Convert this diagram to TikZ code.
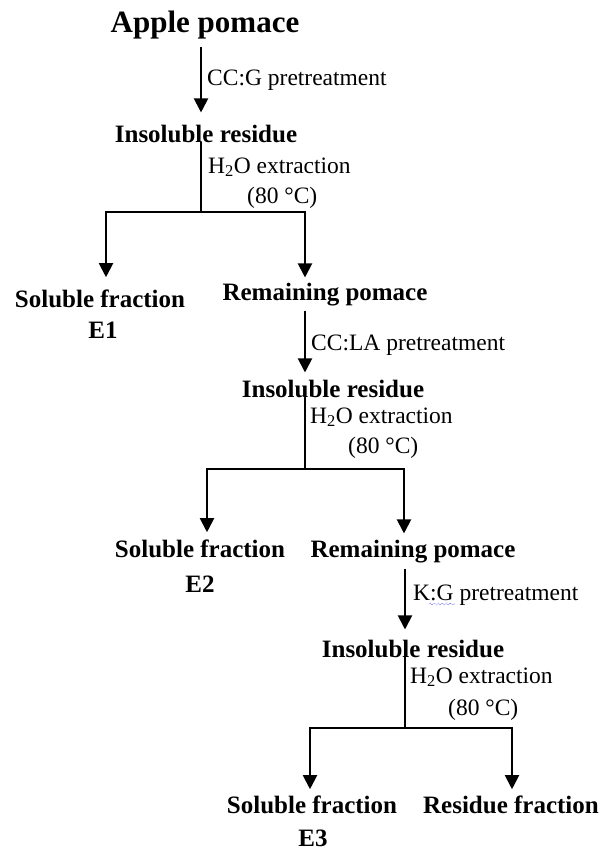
\documentclass[tikz,border=0pt]{standalone}
\usepackage{fontspec}
\setmainfont{Liberation Serif}
\usetikzlibrary{arrows.meta, decorations.pathmorphing}

\begin{document}
\begin{tikzpicture}[
        x = 1pt, y = -1pt,
        title/.style = {font = \fontsize{31}{36}\selectfont\bfseries, inner sep = 8pt, anchor = base},
        stage/.style = {font = \fontsize{25}{30}\selectfont\bfseries, inner sep = 5pt, anchor = base},
        note/.style = {font = \fontsize{23.5}{28}\selectfont, inner sep = 0pt, anchor = base west},
        line/.style = {draw, line width = 2pt},
        arr/.style = {draw, line width = 2pt, -{Triangle[length = 14pt, width = 14pt]}},
        spell/.style = {draw = blue!70, densely dotted, line width = 0.6pt, decorate,
                        decoration = {snake, amplitude = 1pt, segment length = 4pt}},
    ]
    \useasboundingbox (0, 0) rectangle (608, 852);

    % first pretreatment
    \node (app) at (205, 32) [title] {Apple pomace};
    \node (ins1) at (206, 142) [stage, inner ysep = 12pt] {Insoluble residue};
    \node (sol1) at (100, 307) [stage, inner ysep = 12pt] {Soluble fraction};
    \node (e1) at (103, 338) [stage] {E1};
    \node (rem1) at (325, 300) [stage] {Remaining pomace};

    \node (pre1) at (207, 85) [note] {CC:G pretreatment};
    \node (ext1) at (208, 173) [note] {H\textsubscript{2}O extraction};
    \node (tmp1) at (247, 203) [note] {(80 °C)};

    \coordinate (j1) at (201, 212);
    \coordinate (d1l) at (106, 212);
    \coordinate (d1r) at (305, 212);

    \path[arr] (app.south -| j1) -- (ins1.north -| j1);
    \path[line] (ins1.base -| j1) -- (j1);
    \path[arr] (j1) -| (d1l |- sol1.north);
    \path[arr] (j1) -| (d1r |- rem1.north);

    % second pretreatment
    \node (ins2) at (333, 397) [stage, inner ysep = 7pt] {Insoluble residue};
    \node (sol2) at (200, 557) [stage, inner ysep = 7pt] {Soluble fraction};
    \node (e2) at (200, 592) [stage] {E2};
    \node (rem2) at (413, 557) [stage, inner ysep = 6pt] {Remaining pomace};

    \node (pre2) at (311, 350) [note] {CC:LA pretreatment};
    \node (ext2) at (310, 423) [note] {H\textsubscript{2}O extraction};
    \node (tmp2) at (348, 453) [note] {(80 °C)};

    \coordinate (j2) at (305, 469);
    \coordinate (d2l) at (207, 469);
    \coordinate (d2r) at (404, 469);

    \path[arr] (rem1.south -| j2) -- (ins2.north -| j2);
    \path[line] (ins2.base -| j2) -- (j2);
    \path[arr] (j2) -| (d2l |- sol2.north);
    \path[arr] (j2) -| (d2r |- rem2.north);

    % third pretreatment
    \node (ins3) at (413, 657) [stage, inner ysep = 10pt] {Insoluble residue};
    \node (sol3) at (312, 813) [stage, inner ysep = 6pt] {Soluble fraction};
    \node (e3) at (313, 846) [stage] {E3};
    \node (res3) at (511, 813) [stage, inner ysep = 6pt] {Residue fraction};

    \node (pre3) at (413, 600) [note] {K:G pretreatment};
    \node (ext3) at (410, 683) [note] {H\textsubscript{2}O extraction};
    \node (tmp3) at (448, 715) [note] {(80 °C)};
    \path[spell] (pre3.base west) ++(16, 4) -- ++(26, 0);

    \coordinate (j3) at (405, 728);
    \coordinate (d3l) at (310, 728);
    \coordinate (d3r) at (512, 728);

    \path[arr] (rem2.south -| j3) -- (ins3.north -| j3);
    \path[line] (ins3.base -| j3) -- (j3);
    \path[arr] (j3) -| (d3l |- sol3.north);
    \path[arr] (j3) -| (d3r |- res3.north);
\end{tikzpicture}
\end{document}
